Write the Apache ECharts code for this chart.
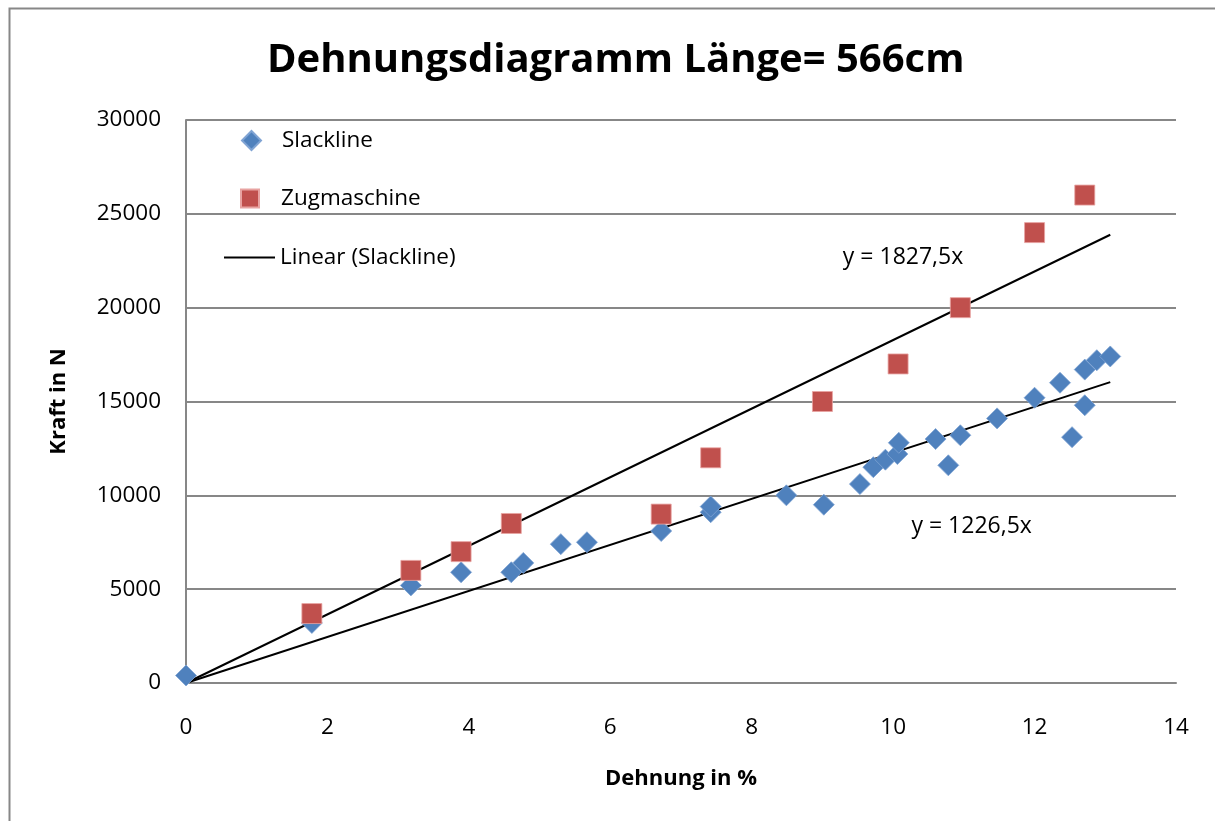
<!DOCTYPE html>
<html>
<head>
<meta charset="utf-8">
<script src="https://cdn.jsdelivr.net/npm/echarts@6/dist/echarts.min.js"></script>
<style>
html,body{margin:0;padding:0;background:#fff;}
#c{width:1215px;height:821px;}
</style>
</head>
<body>
<div id="c"></div>
<script>
var chartTitle = 'Dehnungsdiagramm Länge= 566cm';
var xAxisName = 'Dehnung in %';
var yAxisName = 'Kraft in N';

var slacklineX = [0, 1.78, 3.18, 3.89, 4.6, 4.77, 5.3, 5.67, 6.72, 7.42, 7.42, 8.49, 9.02, 9.53, 9.72, 9.89, 10.06, 10.08, 10.6, 10.78, 10.95, 11.47, 12.0, 12.36, 12.53, 12.71, 12.71, 12.88, 13.07];
var slacklineY = [400, 3200, 5200, 5900, 5900, 6400, 7400, 7500, 8100, 9100, 9400, 10000, 9500, 10600, 11500, 11900, 12200, 12800, 13000, 11600, 13200, 14100, 15200, 16000, 13100, 14800, 16700, 17200, 17400];

var zugX = [1.78, 3.18, 3.89, 4.6, 6.72, 7.42, 9.0, 10.07, 10.95, 12.0, 12.71];
var zugY = [3700, 6000, 7000, 8500, 9000, 12000, 15000, 17000, 20000, 24000, 26000];

var slopeSlack = 1226.5;
var slopeZug = 1827.5;
var trendEndX = 13.07;
var eqSlackLabel = 'y = 1226,5x';
var eqZugLabel = 'y = 1827,5x';
var eqSlackPos = [11.11, 8350];
var eqZugPos = [10.14, 22700];

var xTicks = [0, 2, 4, 6, 8, 10, 12, 14];
var yTicks = [0, 5000, 10000, 15000, 20000, 25000, 30000];

function pairs(xs, ys){ return xs.map(function(x,i){ return [x, ys[i]]; }); }

var FONT = '"Open Sans", "Liberation Sans", sans-serif';
var chart = echarts.init(document.getElementById('c'), null, {renderer:'canvas'});
chart.setOption({
  animation:false,
  backgroundColor:'#fff',
  textStyle:{fontFamily:FONT},
  graphic:[{type:'rect', shape:{x:9.5, y:8.5, width:1300, height:900}, style:{fill:'none', stroke:'#878787', lineWidth:2}, silent:true}],
  title:{text:chartTitle, left:262, top:36, textStyle:{fontFamily:FONT, fontWeight:'bold', fontSize:40, color:'#000'}},
  grid:{left:186, top:120, right:39, bottom:138, containLabel:false},
  legend:[
    {data:['Slackline'], orient:'vertical', left:236, top:124, icon:'diamond', itemWidth:19, itemHeight:19, itemGap:10,
      textStyle:{fontFamily:FONT, fontSize:22.5, color:'#000', padding:[0,0,0,16]}},
    {data:['Zugmaschine'], orient:'vertical', left:235, top:182, icon:'rect', itemWidth:18, itemHeight:18,
      textStyle:{fontFamily:FONT, fontSize:22.5, color:'#000', padding:[0,0,0,17]}},
    {data:['Linear (Slackline)'], orient:'vertical', left:219, top:241, icon:'rect', itemWidth:51, itemHeight:2,
      textStyle:{fontFamily:FONT, fontSize:22.5, color:'#000', padding:[0,0,0,0]}}
  ],
  xAxis:{type:'value', min:0, max:14, interval:2,
    name:xAxisName, nameLocation:'middle', nameGap:85,
    nameTextStyle:{fontFamily:FONT, fontWeight:'bold', fontSize:22, color:'#000'},
    axisLine:{show:true, onZero:false, lineStyle:{color:'#878787', width:2}},
    axisTick:{show:false},
    axisLabel:{color:'#000', fontSize:22.5, fontFamily:FONT, margin:33, formatter:function(v){ return xTicks.indexOf(v)>=0 ? String(v) : ''; }},
    splitLine:{show:false}},
  yAxis:{type:'value', min:0, max:30000, interval:5000,
    name:yAxisName, nameLocation:'middle', nameGap:116, nameRotate:90,
    nameTextStyle:{fontFamily:FONT, fontWeight:'bold', fontSize:22, color:'#000'},
    axisLine:{show:true, lineStyle:{color:'#878787', width:2}},
    axisTick:{show:false},
    axisLabel:{color:'#000', fontSize:22.5, fontFamily:FONT, margin:25, formatter:function(v){ return yTicks.indexOf(v)>=0 ? String(v) : ''; }},
    splitLine:{show:true, lineStyle:{color:'#878787', width:2}}},
  series:[
    {name:'Linear (Slackline)', type:'line', data:[[0,0],[trendEndX, slopeSlack*trendEndX]], symbol:'none',
      lineStyle:{color:'#000', width:2}, itemStyle:{color:'#000'}, z:3,
      markPoint:{symbol:'circle', symbolSize:0, silent:true,
        label:{show:true, position:'inside', color:'#000', fontSize:23, fontFamily:FONT, formatter:eqSlackLabel},
        data:[{coord:eqSlackPos}]}},
    {name:'Linear (Zugmaschine)', type:'line', data:[[0,0],[trendEndX, slopeZug*trendEndX]], symbol:'none',
      lineStyle:{color:'#000', width:2}, itemStyle:{color:'#000'}, z:3,
      markPoint:{symbol:'circle', symbolSize:0, silent:true,
        label:{show:true, position:'inside', color:'#000', fontSize:23, fontFamily:FONT, formatter:eqZugLabel},
        data:[{coord:eqZugPos}]}},
    {name:'Slackline', type:'scatter', data:pairs(slacklineX, slacklineY), symbol:'diamond', symbolSize:21,
      itemStyle:{color:'#4F81BD', borderColor:'#7FA3D3', borderWidth:0.8, opacity:1}, z:4},
    {name:'Zugmaschine', type:'scatter', data:pairs(zugX, zugY), symbol:'rect', symbolSize:20,
      itemStyle:{color:'#C0504D', borderColor:'#E8A3A1', borderWidth:0.8, opacity:1}, z:5}
  ]
});
</script>
</body>
</html>
